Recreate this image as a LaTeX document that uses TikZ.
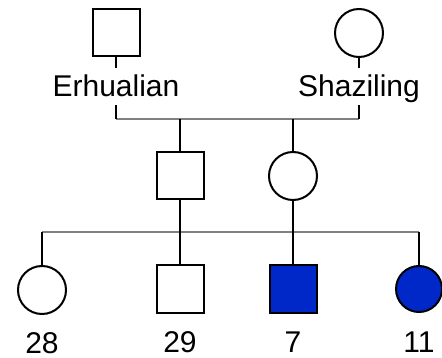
\documentclass[tikz,border=0pt]{standalone}
\usepackage{fontspec}
\setmainfont{Liberation Sans}
\definecolor{affected}{RGB}{0,40,200}
\definecolor{sibline}{RGB}{128,128,128}
\begin{document}
\begin{tikzpicture}[x=1pt,y=-1pt,
  male/.style={draw=black,line width=2pt,minimum size=47pt,inner sep=0pt,rectangle,fill=white},
  female/.style={draw=black,line width=2pt,minimum size=48pt,inner sep=0pt,circle,fill=white},
  ill/.style={fill=affected},
  lbl/.style={font=\fontsize{30}{32}\selectfont,inner sep=0pt},
  link/.style={draw=black,line width=2pt},
  bar/.style={draw=sibline,line width=2pt}]
\useasboundingbox (0,0) rectangle (442,358);
% generation I
\node[male]   (f1) at (116,33) {};
\node[female] (m1) at (359,33) {};
\node[lbl,anchor=base] (nf1) at (116,97) {Erhualian};
\node[lbl,anchor=base] (nm1) at (359,97) {Shaziling};
\coordinate (t1) at (116,105);
\coordinate (t2) at (359,105);
\coordinate (b1) at (116,119);
\coordinate (b2) at (359,119);
\coordinate (c1) at (180,119);
\coordinate (c2) at (293,119);
% generation II
\node[male]   (f2) at (180,176) {};
\node[female] (m2) at (293,176) {};
% generation III
\coordinate (s0) at (42,232);
\coordinate (s1) at (180,232);
\coordinate (s2) at (293,232);
\coordinate (s3) at (419,232);
\node[female]     (k28) at (42,290) {};
\node[male]       (k29) at (180,289) {};
\node[male,ill]   (k7)  at (293,289) {};
\node[female,ill,minimum size=46pt] (k11) at (419,289) {};
\node[lbl,anchor=base] (n28) at (42,353) {28};
\node[lbl,anchor=base] (n29) at (180,352) {29};
\node[lbl,anchor=base] (n7)  at (293,352) {7};
\node[lbl,anchor=base] (n11) at (419,352) {11};
% connectors
\draw[link] (f1.south) -- (f1.south |- 0,68);
\draw[link] (m1.south) -- (m1.south |- 0,68);
\draw[bar] (b1) -- (b2);
\draw[link] (t1) -- (b1);
\draw[link] (t2) -- (b2);
\draw[link] (c1) -- (f2.north);
\draw[link] (c2) -- (m2.north);
\draw[bar] (s0) -- (s3);
\draw[link] (f2.south) -- (s1);
\draw[link] (m2.south) -- (s2);
\draw[link] (s0) -- (k28.north);
\draw[link] (s1) -- (k29.north);
\draw[link] (s2) -- (k7.north);
\draw[link] (s3) -- (k11.north);
\end{tikzpicture}
\end{document}
